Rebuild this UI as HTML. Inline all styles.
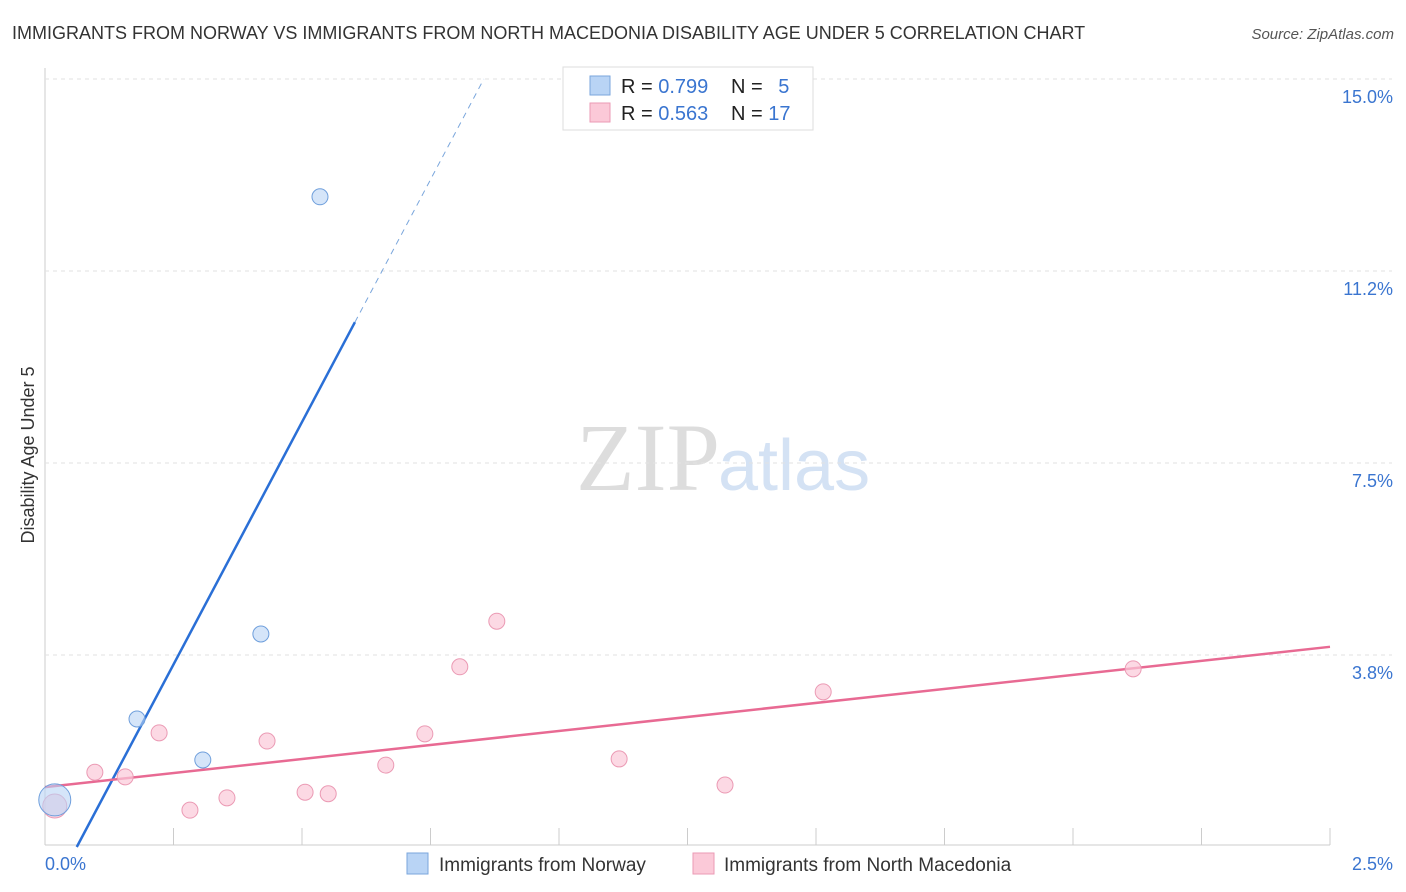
<!DOCTYPE html>
<html><head><meta charset="utf-8"><style>
body{margin:0;background:#fff;font-family:"Liberation Sans",sans-serif;}
#wrap{position:relative;width:1406px;height:892px;overflow:hidden;}
</style></head><body>
<div id="wrap">
<svg id="svg" width="1406" height="892" xmlns="http://www.w3.org/2000/svg">
<text x="12" y="39" font-size="18" fill="#333">IMMIGRANTS FROM NORWAY VS IMMIGRANTS FROM NORTH MACEDONIA DISABILITY AGE UNDER 5 CORRELATION CHART</text>
<text x="1394" y="39" font-size="15" fill="#555" font-style="italic" text-anchor="end">Source: ZipAtlas.com</text>
<text x="720" y="490" font-size="96" fill="#ddd" text-anchor="end" font-family="Liberation Serif,serif">ZIP</text>
<text x="718" y="490" font-size="72" fill="#d4e2f4">atlas</text>
<text transform="translate(34,455) rotate(-90)" font-size="18" fill="#333" text-anchor="middle">Disability Age Under 5</text>
<g id="grid"></g><g id="lines"></g><g id="pts"></g>
<g>
<rect x="563" y="67" width="250" height="63" fill="#fff" stroke="#ddd"/>
<rect x="590" y="76" width="20" height="19" fill="#b9d4f5" stroke="#7aa6dc"/>
<rect x="590" y="103" width="20" height="19" fill="#fbc9d8" stroke="#eb9ab4"/>
<text x="621" y="93" font-size="20" fill="#222">R = <tspan fill="#3a75d0">0.799</tspan></text>
<text x="731" y="93" font-size="20" fill="#222">N = <tspan fill="#3a75d0" dx="10">5</tspan></text>
<text x="621" y="120" font-size="20" fill="#222">R = <tspan fill="#3a75d0">0.563</tspan></text>
<text x="731" y="120" font-size="20" fill="#222">N = <tspan fill="#3a75d0">17</tspan></text>
</g>
<g>
<rect x="407" y="853" width="21" height="21" fill="#b9d4f5" stroke="#7aa6dc"/>
<text x="439" y="871" font-size="19" fill="#333">Immigrants from Norway</text>
<rect x="693" y="853" width="21" height="21" fill="#fbc9d8" stroke="#eb9ab4"/>
<text x="724" y="871" font-size="19" fill="#333">Immigrants from North Macedonia</text>
</g>
</svg>
</div>
<script>
const xTickLabels=["0.0%","2.5%"];
const yTicks=[3.75,7.5,11.25,15];
const yTickLabels=["3.8%","7.5%","11.2%","15.0%"];
const norwayX=[0.019,0.179,0.307,0.420,0.535];
const norwayY=[0.92,2.50,1.70,4.16,12.70];
const macX=[0.019,0.097,0.156,0.222,0.282,0.354,0.432,0.506,0.551,0.663,0.739,0.807,0.879,1.117,1.323,1.514,2.117];
const macY=[0.80,1.46,1.37,2.23,0.72,0.96,2.07,1.07,1.04,1.60,2.21,3.52,4.41,1.72,1.21,3.03,3.48];
const norwayLine=[-1.17,18.94]; // intercept, slope
const macLine=[1.17,1.096];
const NS="http://www.w3.org/2000/svg";
const X=v=>45+v/2.5*1285, Y=v=>847-v*51.2;
function mk(t,a,p){const e=document.createElementNS(NS,t);for(const k in a)e.setAttribute(k,a[k]);document.getElementById(p).appendChild(e);return e;}
// grid
let ax=mk('line',{x1:45,y1:68,x2:45,y2:845,stroke:'#ccc'},'grid');


let bx=mk('line',{x1:45,y1:845,x2:1330,y2:845,stroke:'#ccc'},'grid');


for(let i=0;i<=10;i++){const x=X(i*0.25);let t=mk('line',{x1:x,y1:828,x2:x,y2:845,stroke:'#ccc'},'grid');

}
yTicks.forEach((v,i)=>{let g=mk('line',{x1:45,y1:Y(v),x2:1392,y2:Y(v),stroke:'#e2e2e2','stroke-dasharray':'4,4'},'grid');


let t=mk('text',{x:1393,y:Y(v)+24,'font-size':18,fill:'#3a75d0','text-anchor':'end'},'grid');t.textContent=yTickLabels[i];

});
[[0,'start',45],[2.5,'end',1393]].forEach((d,i)=>{let t=mk('text',{x:d[2],y:870,'font-size':18,fill:'#3a75d0','text-anchor':d[1]},'grid');t.textContent=xTickLabels[i];

});
// trend lines
const nv=x=>norwayLine[0]+norwayLine[1]*x;
const x0=(0-norwayLine[0])/norwayLine[1], x1=(10.25-norwayLine[0])/norwayLine[1], x2=(15-norwayLine[0])/norwayLine[1];
let l1=mk('line',{x1:X(x0),y1:Y(nv(x0)),x2:X(x1),y2:Y(nv(x1)),stroke:'#2a6fd6','stroke-width':2.5},'lines');


let l2=mk('line',{x1:X(x1),y1:Y(nv(x1)),x2:X(x2),y2:Y(nv(x2)),stroke:'#7aa6dc','stroke-width':1,'stroke-dasharray':'6,5'},'lines');


let l3=mk('line',{x1:X(0),y1:Y(macLine[0]),x2:X(2.5),y2:Y(macLine[0]+macLine[1]*2.5),stroke:'#e86a93','stroke-width':2.5},'lines');


// points
macX.forEach((x,i)=>{let c=mk('circle',{cx:X(x),cy:Y(macY[i]),r:i==0?12:8,fill:'rgba(251,201,216,0.7)',stroke:'#eb9ab4'},'pts');

});
norwayX.forEach((x,i)=>{let c=mk('circle',{cx:X(x),cy:Y(norwayY[i]),r:i==0?16:8,fill:'rgba(185,212,245,0.6)',stroke:'#6f9fdc'},'pts');

});
</script>
</body></html>
